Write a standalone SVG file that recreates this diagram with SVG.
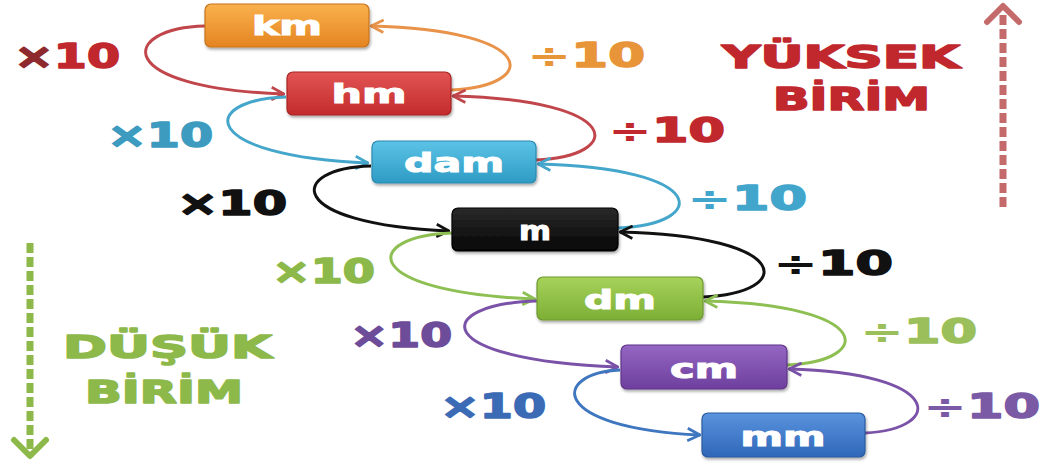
<svg xmlns="http://www.w3.org/2000/svg" width="1063" height="468" viewBox="0 0 1063 468">
<style>
.box{stroke-width:1.2}
.nl{font-family:"DejaVu Sans",sans-serif;font-weight:bold;font-size:26px;fill:#fff;stroke:#fff;stroke-width:1;text-anchor:middle}
.lb{font-family:"DejaVu Sans",sans-serif;font-weight:bold;font-size:34px;stroke-linejoin:round}
.n{stroke-width:1.6}
.s{stroke:none}
.big{font-family:"DejaVu Sans",sans-serif;font-weight:bold;font-size:32px;stroke-width:1.6;stroke-linejoin:round}
.c{fill:none;stroke-width:3}
</style>
<defs>
<linearGradient id="gOr" x1="0" y1="0" x2="0" y2="1"><stop offset="0" stop-color="#F9B24E"/><stop offset="1" stop-color="#E48420"/></linearGradient>
<linearGradient id="gRe" x1="0" y1="0" x2="0" y2="1"><stop offset="0" stop-color="#E25454"/><stop offset="1" stop-color="#C32B2B"/></linearGradient>
<linearGradient id="gTe" x1="0" y1="0" x2="0" y2="1"><stop offset="0" stop-color="#5CC3E6"/><stop offset="1" stop-color="#2E9BC4"/></linearGradient>
<linearGradient id="gBk" x1="0" y1="0" x2="0" y2="1"><stop offset="0" stop-color="#2A2A2A"/><stop offset="1" stop-color="#050505"/></linearGradient>
<linearGradient id="gGr" x1="0" y1="0" x2="0" y2="1"><stop offset="0" stop-color="#A6D25A"/><stop offset="1" stop-color="#7DAF35"/></linearGradient>
<linearGradient id="gPu" x1="0" y1="0" x2="0" y2="1"><stop offset="0" stop-color="#9467C2"/><stop offset="1" stop-color="#6E3F9E"/></linearGradient>
<linearGradient id="gBl" x1="0" y1="0" x2="0" y2="1"><stop offset="0" stop-color="#5A93DE"/><stop offset="1" stop-color="#2F68B8"/></linearGradient>
<filter id="sh" x="-10%" y="-20%" width="120%" height="150%"><feDropShadow dx="1" dy="2" stdDeviation="1.5" flood-color="#000" flood-opacity="0.35"/></filter>
<marker id="aRe" viewBox="0 0 12 12" refX="11" refY="6" markerWidth="15" markerHeight="15" markerUnits="userSpaceOnUse" orient="auto"><path d="M1,1 L11,6 L1,11" fill="none" stroke="#C0464B" stroke-width="2.2"/></marker>
<marker id="aOr" viewBox="0 0 12 12" refX="11" refY="6" markerWidth="15" markerHeight="15" markerUnits="userSpaceOnUse" orient="auto"><path d="M1,1 L11,6 L1,11" fill="none" stroke="#E8924A" stroke-width="2.2"/></marker>
<marker id="aTe" viewBox="0 0 12 12" refX="11" refY="6" markerWidth="15" markerHeight="15" markerUnits="userSpaceOnUse" orient="auto"><path d="M1,1 L11,6 L1,11" fill="none" stroke="#45A6CB" stroke-width="2.2"/></marker>
<marker id="aBk" viewBox="0 0 12 12" refX="11" refY="6" markerWidth="15" markerHeight="15" markerUnits="userSpaceOnUse" orient="auto"><path d="M1,1 L11,6 L1,11" fill="none" stroke="#111" stroke-width="2.2"/></marker>
<marker id="aGr" viewBox="0 0 12 12" refX="11" refY="6" markerWidth="15" markerHeight="15" markerUnits="userSpaceOnUse" orient="auto"><path d="M1,1 L11,6 L1,11" fill="none" stroke="#8DBF52" stroke-width="2.2"/></marker>
<marker id="aPu" viewBox="0 0 12 12" refX="11" refY="6" markerWidth="15" markerHeight="15" markerUnits="userSpaceOnUse" orient="auto"><path d="M1,1 L11,6 L1,11" fill="none" stroke="#7A52A8" stroke-width="2.2"/></marker>
<marker id="aBl" viewBox="0 0 12 12" refX="11" refY="6" markerWidth="15" markerHeight="15" markerUnits="userSpaceOnUse" orient="auto"><path d="M1,1 L11,6 L1,11" fill="none" stroke="#3F76C0" stroke-width="2.2"/></marker>
</defs>
<rect width="1063" height="468" fill="#fff"/>

<g id="connectors">
<path class="c" stroke="#C0464B" marker-end="url(#aRe)" d="M205,26 C120,28 110,88 284,94"/>
<path class="c" stroke="#45A6CB" marker-end="url(#aTe)" d="M286,97 C198,100 198,156 368,163"/>
<path class="c" stroke="#111" marker-end="url(#aBk)" d="M371,166 C288,168 282,224 449,231"/>
<path class="c" stroke="#8DBF52" marker-end="url(#aGr)" d="M452,233 C362,236 357,292 535,299"/>
<path class="c" stroke="#7A52A8" marker-end="url(#aPu)" d="M537,301 C432,304 427,360 618,367"/>
<path class="c" stroke="#3F76C0" marker-end="url(#aBl)" d="M620,370 C552,373 547,428 700,435"/>

<path class="c" stroke="#E8924A" marker-end="url(#aOr)" d="M451,90 C540,86 540,30 371,26"/>
<path class="c" stroke="#C0464B" marker-end="url(#aRe)" d="M536,160 C625,156 625,100 453,96"/>
<path class="c" stroke="#45A6CB" marker-end="url(#aTe)" d="M618,228 C710,224 710,168 538,164"/>
<path class="c" stroke="#111" marker-end="url(#aBk)" d="M703,297 C795,293 795,236 620,232"/>
<path class="c" stroke="#8DBF52" marker-end="url(#aGr)" d="M787,365 C875,361 875,305 705,301"/>
<path class="c" stroke="#7A52A8" marker-end="url(#aPu)" d="M865,433 C945,429 945,373 789,369"/>
</g>

<g id="km"><rect class="box" x="205" y="4" width="164" height="43" rx="6" fill="url(#gOr)" stroke="#C9741C" filter="url(#sh)"/><text class="nl" x="287" y="35" textLength="70" lengthAdjust="spacingAndGlyphs">km</text></g>
<g id="hm"><rect class="box" x="287" y="72" width="164" height="43" rx="6" fill="url(#gRe)" stroke="#A82424" filter="url(#sh)"/><text class="nl" x="369" y="103" textLength="75" lengthAdjust="spacingAndGlyphs">hm</text></g>
<g id="dam"><rect class="box" x="372" y="141" width="164" height="42" rx="6" fill="url(#gTe)" stroke="#2A8AB0" filter="url(#sh)"/><text class="nl" x="454" y="172" textLength="100" lengthAdjust="spacingAndGlyphs">dam</text></g>
<g id="m"><rect class="box" x="452" y="208" width="166" height="43" rx="6" fill="url(#gBk)" stroke="#000" filter="url(#sh)"/><text class="nl" x="535" y="240" textLength="32" lengthAdjust="spacingAndGlyphs">m</text></g>
<g id="dm"><rect class="box" x="537" y="277" width="166" height="43" rx="6" fill="url(#gGr)" stroke="#6E9A2E" filter="url(#sh)"/><text class="nl" x="620" y="309" textLength="72" lengthAdjust="spacingAndGlyphs">dm</text></g>
<g id="cm"><rect class="box" x="621" y="345" width="166" height="44" rx="6" fill="url(#gPu)" stroke="#5E358A" filter="url(#sh)"/><text class="nl" x="704" y="378" textLength="68" lengthAdjust="spacingAndGlyphs">cm</text></g>
<g id="mm"><rect class="box" x="702" y="413" width="163" height="44" rx="6" fill="url(#gBl)" stroke="#285AA0" filter="url(#sh)"/><text class="nl" x="783" y="446" textLength="85" lengthAdjust="spacingAndGlyphs">mm</text></g>

<g id="labels">
<text class="lb" x="14" y="68" textLength="106" lengthAdjust="spacingAndGlyphs"><tspan class="n" fill="#8E2A2E" stroke="#8E2A2E">×</tspan><tspan class="n" fill="#C0282D" stroke="#C0282D">10</tspan></text>
<text class="lb" x="107" y="147" textLength="106" lengthAdjust="spacingAndGlyphs" fill="#3E9BC0" stroke="#3E9BC0"><tspan class="n">×10</tspan></text>
<text class="lb" x="177" y="215" textLength="110" lengthAdjust="spacingAndGlyphs" fill="#111" stroke="#111"><tspan class="n">×10</tspan></text>
<text class="lb" x="272" y="283" textLength="103" lengthAdjust="spacingAndGlyphs" fill="#8DB84A" stroke="#8DB84A"><tspan class="n">×10</tspan></text>
<text class="lb" x="350" y="347" textLength="102" lengthAdjust="spacingAndGlyphs" fill="#6D4C9A" stroke="#6D4C9A"><tspan class="n">×10</tspan></text>
<text class="lb" x="440" y="418" textLength="106" lengthAdjust="spacingAndGlyphs" fill="#3C6BB5" stroke="#3C6BB5"><tspan class="n">×10</tspan></text>

<text class="lb" x="527" y="67" textLength="118" lengthAdjust="spacingAndGlyphs" fill="#E8953A" stroke="#E8953A"><tspan class="s">÷</tspan><tspan class="n">10</tspan></text>
<text class="lb" x="608" y="142" textLength="117" lengthAdjust="spacingAndGlyphs" fill="#C0282D" stroke="#C0282D"><tspan class="s">÷</tspan><tspan class="n">10</tspan></text>
<text class="lb" x="687" y="210" textLength="120" lengthAdjust="spacingAndGlyphs" fill="#42A5CC" stroke="#42A5CC"><tspan class="s">÷</tspan><tspan class="n">10</tspan></text>
<text class="lb" x="773" y="275" textLength="120" lengthAdjust="spacingAndGlyphs" fill="#111" stroke="#111"><tspan class="s">÷</tspan><tspan class="n">10</tspan></text>
<text class="lb" x="860" y="343" textLength="117" lengthAdjust="spacingAndGlyphs" fill="#9BBF5A" stroke="#9BBF5A"><tspan class="s">÷</tspan><tspan class="n">10</tspan></text>
<text class="lb" x="923" y="418" textLength="117" lengthAdjust="spacingAndGlyphs" fill="#7A5AA5" stroke="#7A5AA5"><tspan class="s">÷</tspan><tspan class="n">10</tspan></text>

<text class="big" x="722" y="68" textLength="238" lengthAdjust="spacingAndGlyphs" fill="#C0282D" stroke="#C0282D">YÜKSEK</text>
<text class="big" x="773" y="110" textLength="157" lengthAdjust="spacingAndGlyphs" fill="#C0282D" stroke="#C0282D">BİRİM</text>
<text class="big" x="63" y="358" textLength="209" lengthAdjust="spacingAndGlyphs" fill="#8DB84A" stroke="#8DB84A">DÜŞÜK</text>
<text class="big" x="85" y="403" textLength="158" lengthAdjust="spacingAndGlyphs" fill="#8DB84A" stroke="#8DB84A">BİRİM</text>
</g>

<g id="arrowUp" fill="none" stroke="#C46A6A">
<line x1="1003" y1="207" x2="1003" y2="14" stroke-width="7" stroke-dasharray="10 4"/>
<path d="M987,22 L1003,6 L1019,22" stroke-width="6" stroke-linecap="round" stroke-linejoin="round"/>
</g>
<g id="arrowDown" fill="none" stroke="#8DB84A">
<line x1="30" y1="243" x2="30" y2="450" stroke-width="7" stroke-dasharray="10 4"/>
<path d="M14,440 L30,456 L46,440" stroke-width="6" stroke-linecap="round" stroke-linejoin="round"/>
</g>
</svg>
